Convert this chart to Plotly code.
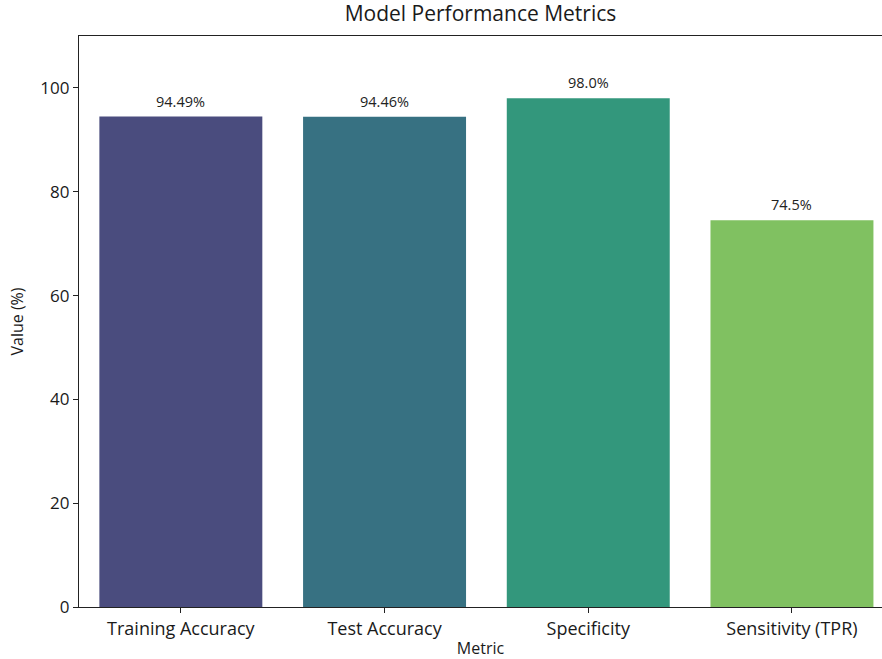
import plotly.graph_objects as go

metrics = ["Training Accuracy", "Test Accuracy", "Specificity", "Sensitivity (TPR)"]
values = [94.49, 94.46, 98.0, 74.5]
value_labels = ["94.49%", "94.46%", "98.0%", "74.5%"]
colors = ["#4a4c7e", "#377182", "#33977c", "#80c161"]
y_ticks = [0, 20, 40, 60, 80, 100]

FONT = "Open Sans"

fig = go.Figure()
fig.add_trace(go.Bar(
    x=list(range(len(metrics))), y=values,
    marker=dict(color=colors, line=dict(width=0)),
    width=0.8, hoverinfo="skip",
))

for i, (v, lab) in enumerate(zip(values, value_labels)):
    fig.add_annotation(x=i, y=v, text=lab, showarrow=False,
                       yanchor="bottom", yshift=4,
                       font=dict(family=FONT, size=14.5, color="#222222"))

fig.update_layout(
    width=882, height=659,
    margin=dict(l=79, r=0, t=36, b=52),
    paper_bgcolor="white", plot_bgcolor="white",
    showlegend=False,
    bargap=0.2,
    title=dict(text="Model Performance Metrics", x=0.5, xref="paper",
               y=1, yref="container", yanchor="top", pad=dict(t=6),
               font=dict(family=FONT, size=21, color="#1a1a1a")),
    font=dict(family=FONT, color="#1a1a1a"),
)

fig.update_xaxes(
    range=[-0.5, 3.442],
    tickmode="array", tickvals=list(range(len(metrics))), ticktext=metrics,
    tickfont=dict(family=FONT, size=18, color="#1a1a1a"),
    ticks="outside", ticklen=5, tickcolor="#222222",
    showline=True, linecolor="#222222", linewidth=1.2, mirror=True,
    showgrid=False, zeroline=False,
    title=dict(text="Metric", font=dict(family=FONT, size=16, color="#1a1a1a"), standoff=9),
)
fig.update_yaxes(
    range=[0, 110],
    tickmode="array", tickvals=y_ticks, ticktext=[str(t) for t in y_ticks],
    tickfont=dict(family=FONT, size=17, color="#1a1a1a"),
    ticks="outside", ticklen=5, tickcolor="#222222",
    showline=True, linecolor="#222222", linewidth=1.2,
    showgrid=False, zeroline=False,
    title=dict(text="Value (%)", font=dict(family=FONT, size=16, color="#1a1a1a"), standoff=12),
)

fig.write_html("out.html", config={"displayModeBar": False},
               post_script="document.body.style.margin='0';document.body.style.overflow='hidden';")
